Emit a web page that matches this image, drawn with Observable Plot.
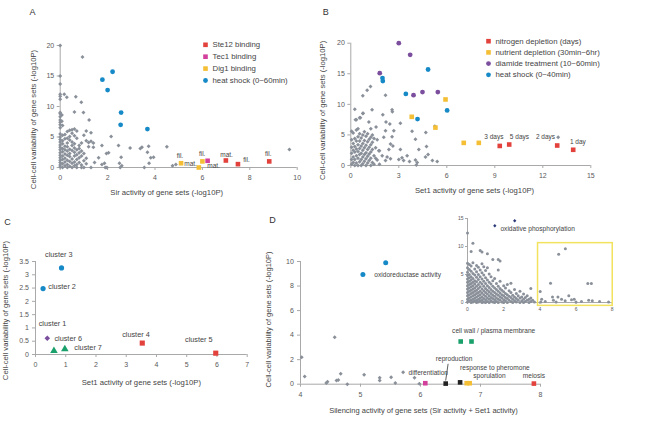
<!DOCTYPE html>
<html><head><meta charset="utf-8">
<script src="https://cdn.jsdelivr.net/npm/d3@7"></script>
<script src="https://cdn.jsdelivr.net/npm/@observablehq/plot@0.6"></script>
<style>
body{margin:0;background:#fff;}
#fig{position:relative;width:648px;height:427px;overflow:hidden;background:#fff;}
</style></head><body><div id="fig"></div>
<script>
// ---------- Panel A data ----------
const xTicksA = [0,2,4,6,8,10];
const yTicksA = [0,5,10,15,20];
const grayA = [[0,20],[0.94,18.1],[0,15],[0,13.7],[0,12],[0,11.7],[0,11.2],[0.17,12],[0.28,11.5],[0.66,11.6],[0.89,10.7],[0.98,9.0],[0.6,9.1],[1.22,7.8],[0,9],[0,8.8],[0,8.3],[0.07,8.6],[0,7.8],[0,7.4],[0.07,7.6],[0,7.0],[0.1,6.9],[0,6.5],[0,5.5],[0,5.0],[0,4.6],[0,4.2],[0,3.7],[0,3.3],[0,2.9],[0,2.4],[0,2.0],[0,1.6],[0,1.2],[0,0.8],[0,0.4],[0,0.1],
[0.1,5.3],[0.1,4.4],[0.1,3.9],[0.1,3.1],[0.1,2.6],[0.1,1.9],[0.1,1.3],[0.1,0.6],[0.1,0],
[0.2,5.4],[0.2,4.7],[0.2,3.5],[0.2,2.9],[0.2,2.2],[0.2,1.5],[0.2,0.9],[0.2,0.3],
[0.3,5.9],[0.3,4.8],[0.3,4.0],[0.3,3.4],[0.3,2.7],[0.3,2.0],[0.3,1.2],[0.3,0.5],[0.3,0],
[0.4,6.1],[0.4,5.1],[0.4,4.5],[0.4,3.0],[0.4,2.3],[0.4,1.8],[0.4,1.0],[0.4,0.2],
[0.5,6.2],[0.5,5.6],[0.5,4.2],[0.5,3.6],[0.5,2.8],[0.5,1.4],[0.5,0.7],[0.5,0],
[0.6,6.3],[0.6,5.2],[0.6,3.9],[0.6,3.2],[0.6,2.5],[0.6,1.9],[0.6,0.9],[0.6,0.3],
[0.7,6.0],[0.7,4.8],[0.7,2.9],[0.7,2.1],[0.7,1.3],[0.7,0.5],[0.7,0],
[0.8,3.6],[0.8,3.1],[0.8,2.4],[0.8,1.6],[0.8,0.8],
[0.9,4.0],[0.9,2.7],[0.9,1.9],[0.9,0.4],[0.9,0],
[1.0,5.3],[1.0,2.3],[1.0,1.1],[1.0,0],
[1.1,6.0],[1.1,4.4],[1.1,1.5],[1.1,0.6],
[1.2,4.1],[1.2,3.4],[1.3,5.7],[1.3,4.3],[1.3,0],[1.4,4.0],[1.4,3.3],[1.45,0.8],
[1.62,1.6],[1.76,0.5],[1.9,0],[1.76,3.6],[1.95,2.3],[2.04,2.4],[1.87,0.7],[1.97,0],[2.15,5.1],[2.46,3.6],[2.5,0.7],[2.53,0],[2.6,0.3],[2.57,1.7],[2.95,3.2],[3.38,3.1],[3.45,3.3],[3.73,3.5],[3.68,2.5],[3.82,1.6],[3.94,1.7],[3.75,0.7],[3.55,0],[4.5,3.4],[4.74,0.28],[4.88,0.5],[9.67,2.95]];
const heatA = [[1.78,14.4],[2.21,15.7],[2.0,12.7],[2.57,9.0],[2.55,7.0],[3.68,6.3]];
const ste12A = [[6.99,1.15],[7.5,0.55],[8.82,1.0]];
const tec1A = [[6.22,1.1]];
const dig1A = [[5.1,0.7],[6.0,1.0],[5.85,0]];
const notesA = [{x:5.05,y:1.92,t:"fil."},{x:5.5,y:0.6,t:"mat."},{x:5.99,y:2.25,t:"fil."},{x:6.47,y:0.21,t:"mat."},{x:7.02,y:2.13,t:"mat."},{x:7.86,y:1.26,t:"fil."},{x:8.78,y:2.25,t:"fil."}];
const legendA = ["Ste12 binding","Tec1 binding","Dig1 binding","heat shock (0~60min)"];

// ---------- Panel B data ----------
const xTicksB = [0,3,6,9,12,15];
const yTicksB = [0,5,10,15,20];
const grayB = [[0.05,5.6],[0.05,4.2],[0.05,3.0],[0.05,2.0],[0.05,1.0],[0.05,0.2],[0.15,5.3],[0.15,3.6],[0.15,2.5],[0.15,1.4],[0.15,0.5],[0.25,9.2],[0.25,4.4],[0.25,3.1],[0.25,2.2],[0.25,1.0],[0.25,0],[0.35,7.5],[0.35,5.8],[0.35,4.0],[0.35,2.7],[0.35,1.6],[0.35,0.4],[0.45,6.0],[0.45,4.7],[0.45,3.4],[0.45,2.3],[0.45,1.2],[0.45,0],[0.55,7.8],[0.55,5.2],[0.55,4.0],[0.55,2.8],[0.55,1.8],[0.55,0.6],[0.65,4.5],[0.65,3.2],[0.65,2.0],[0.65,1.0],[0.65,0],[0.75,11.4],[0.75,8.5],[0.75,5.0],[0.75,3.6],[0.75,2.5],[0.75,1.4],[0.75,0.3],[0.85,5.5],[0.85,4.1],[0.85,2.9],[0.85,1.8],[0.85,0.7],[0.95,4.8],[0.95,3.3],[0.95,2.1],[0.95,1.1],[0.95,0],[1.02,12.3],[1.05,5.2],[1.05,3.9],[1.05,2.6],[1.05,1.5],[1.05,0.4],[1.13,7.1],[1.15,4.3],[1.15,3.0],[1.15,1.9],[1.15,0.8],[1.23,12.9],[1.25,6.0],[1.25,4.6],[1.25,3.4],[1.25,2.2],[1.25,1.2],[1.25,0],[1.33,9.1],[1.35,5.0],[1.35,3.8],[1.35,2.6],[1.35,0.5],[1.45,4.4],[1.45,1.6],[1.45,0.2],[1.55,2.9],[1.55,1.2],[1.58,6.3],[1.65,4.2],[1.65,0.9],[1.75,2.4],[1.79,0.2],
[2.17,11.5],[0.77,8.55],[2.0,8.3],[2.58,9.1],[2.6,8.8],[0.29,7.5],[0.6,7.8],[2.2,7.1],[2.44,6.8],[3.1,6.9],[2.17,5.7],[2.69,5.7],[3.83,5.6],[5.25,6.4],[2.06,4.6],[2.58,4.7],[4.04,4.3],[4.69,5.4],[2.48,3.5],[2.63,3.2],[2.38,2.6],[3.1,2.6],[3.52,1.6],[4.25,2.6],[4.73,3.1],[4.83,1.8],[4.67,1.4],[5.4,0.65],[5.1,0.8],[4.04,0.9],[4.15,0.5],[4.1,0.1],[3.2,1.25],[3.0,1.0],[3.3,0.8],[3.67,0.65],[2.48,1.1],[2.27,1.4],[2.17,0.8],[1.96,1.6],[1.79,2.4],[12.96,4.6]];
const nitrogenB = [[9.31,3.2],[9.9,3.43],[12.9,3.27],[13.9,2.57]];
const nutrientB = [[3.81,7.96],[5.92,10.8],[5.29,6.2],[7.06,3.7],[8.0,3.7]];
const diamideB = [[3.0,20],[3.71,18.1],[1.81,15.1],[4.48,12.0],[3.92,11.5],[5.44,12.0]];
const heatB = [[1.98,14.3],[2.0,13.8],[3.44,11.7],[4.83,15.7],[6.02,9.0],[4.17,7.6]];
const notesB = [{x:8.94,y:4.74,t:"3 days"},{x:10.54,y:4.74,t:"5 days"},{x:12.17,y:4.62,t:"2 days"},{x:14.19,y:3.81,t:"1 day"}];
const legendB = ["nitrogen depletion (days)","nutrient depletion (30min~6hr)","diamide treatment (10~60min)","heat shock (0~40min)"];

// ---------- Panel C data ----------
const xTicksC = [0,1,2,3,4,5,6,7];
const yTicksC = [0,0.5,1,1.5,2,2.5,3,3.5];
const blueC = [[0.86,3.26],[0.25,2.48]];
const purpleC = [[0.39,0.61]];
const greenC = [[0.61,0.14],[0.97,0.2]];
const redC = [[3.53,0.43],[5.96,0.05]];
const notesC = [{x:0.77,y:3.77,t:"cluster 3"},{x:0.88,y:2.57,t:"cluster 2"},{x:0.56,y:1.16,t:"cluster 1"},{x:1.08,y:0.61,t:"cluster 6"},{x:1.74,y:0.25,t:"cluster 7"},{x:3.32,y:0.75,t:"cluster 4"},{x:5.4,y:0.55,t:"cluster 5"}];

// ---------- Panel D data ----------
const xTicksD = [4,5,6,7,8];
const yTicksD = [0,2,4,6,8,10];
const grayD = [[4.02,2.2],[4.07,0.63],[4.57,3.83],[4.43,0.1],[4.45,0.2],[4.6,0.3],[4.63,0.35],[4.67,0.85],[4.78,0],[5.06,0.77],[5.32,0.52],[5.32,0.3],[5.51,0.57],[5.58,0.1],[5.71,0.98],[5.9,0.52],[5.98,0.03]];
const blueD = [[5.42,9.9],[5.04,8.94]];
const greenD = [[6.67,3.48],[6.85,3.48]];
const magentaD = [[6.08,0.08]];
const blackD = [[6.42,0.05],[6.66,0.15]];
const yellowD = [[6.77,0.08],[6.82,0.08]];
const redD = [[7.89,0.05]];
const notesDmid = [{x:7.22,y:4.32,t:"cell wall / plasma membrane"},{x:6.56,y:2.07,t:"reproduction"},{x:7.89,y:0.65,t:"meiosis"}];
const notesDstart = [{x:5.23,y:8.94,t:"oxidoreductase activity"},{x:6.66,y:1.3,t:"response to pheromone"},{x:6.88,y:0.65,t:"sporulation"},{x:5.8,y:0.93,t:"differentiation"}];
const leaderD = [{x1:6.46,y1:1.66,x2:6.42,y2:0.3}];

// ---------- Inset data ----------
const xTicksI = [0,2,4,6,8];
const yTicksI = [0,5,10,15];
const insetCols = [
 [0.0,[12.4,7.0,6.2,5.4,4.8,4.2,3.6,3.0,2.4,1.8,1.2,0.6,0.1]],
 [0.1,[6.8,5.9,5.0,4.4,3.8,3.2,2.6,2.0,1.4,0.8,0.3]],
 [0.2,[9.1,6.5,5.6,4.6,4.0,3.4,2.8,2.2,1.6,1.0,0.4,0]],
 [0.3,[10.6,7.1,5.2,4.3,3.6,3.0,2.4,1.8,1.2,0.6,0.1]],
 [0.4,[6.0,4.9,3.9,3.3,2.6,2.0,1.4,0.8,0.3]],
 [0.5,[6.6,5.5,4.5,3.7,2.9,2.2,1.6,1.0,0.4,0]],
 [0.6,[6.3,5.0,4.1,3.2,2.5,1.8,1.2,0.6,0.1]],
 [0.7,[9.3,5.8,4.6,3.6,2.8,2.0,1.4,0.8,0.3]],
 [0.8,[9.0,6.9,5.3,4.2,3.3,2.4,1.7,1.0,0.4,0]],
 [0.9,[6.4,4.9,3.8,2.9,2.1,1.4,0.7,0.1]],
 [1.0,[5.7,4.4,3.4,2.5,1.8,1.1,0.5,0]],
 [1.1,[8.7,6.2,4.0,3.0,2.2,1.5,0.8,0.2]],
 [1.2,[5.1,3.6,2.7,1.9,1.2,0.6,0]],
 [1.3,[4.6,3.3,2.3,1.6,0.9,0.3]],
 [1.4,[7.7,3.9,2.9,2.0,1.3,0.7,0.1]],
 [1.5,[4.3,2.6,1.8,1.1,0.5,0]],
 [1.6,[3.4,2.3,1.5,0.8,0.2]],
 [1.7,[7.7,5.8,2.9,2.0,1.3,0.6,0]],
 [1.8,[7.4,3.8,2.5,1.7,1.0,0.4]],
 [1.9,[2.2,1.4,0.8,0.1]],
 [2.0,[3.0,1.9,1.2,0.5,0]],
 [2.1,[2.6,1.6,0.9,0.3]],
 [2.2,[3.2,1.4,0.7,0]],
 [2.3,[2.1,1.1,0.4]],
 [2.4,[3.45,1.8,0.9,0.2]],
 [2.5,[1.3,0.6,0]],
 [2.6,[2.3,1.0,0.3]],
 [2.7,[1.6,0.7,0.1]],
 [2.8,[1.2,0.4]],
 [2.9,[2.0,0.8,0]],
 [3.0,[1.0,0.3]],
 [3.1,[1.5,0.6,0]],
 [3.2,[0.9,0.2]],
 [3.3,[1.2,0.4]],
 [3.4,[0.6,0]],
 [3.5,[2.5,0.8,0.2]],
 [3.6,[0.4]],
 [3.7,[0.1]]
];
const insetExtra = [[4.02,1.96],[4.1,0.6],[4.05,0.1],[4.3,0.2],[4.59,3.45],[4.7,1.0],[4.75,0.4],[4.9,0.1],[5.04,8.6],[5.0,1.0],[5.2,0.6],[5.41,9.6],[5.4,0.3],[5.6,1.2],[5.75,0.5],[5.9,0.6],[6.0,0.1],[6.3,0.2],[6.65,3.4],[6.85,3.4],[6.7,0.4],[6.9,0.3],[7.3,0.2],[7.8,0.1]];
const oxphosI = [[1.51,13.7],[2.61,14.6]];
const boxI = [{x1:3.9,x2:8.03,y1:-0.6,y2:10.6}];
const noteI = [{x:1.82,y:13.1,t:"oxidative phosphorylation"}];

// ---------- styling ----------
const FONT = "'Liberation Sans', Arial, Helvetica, sans-serif";
const AXIS = "#a9a9a9", TICK = "#5a5a5a", TXT = "#444";
const GRAY = "#8a9099", RED = "#e2413c", MAGENTA = "#d3409b", YELLOW = "#f4bf35", BLUE = "#1689c7", PURPLE = "#7b4f9e", GREEN = "#1aa06a", BLACK = "#222", NAVY = "#2c3a78";
const fig = document.getElementById("fig");
const X = d => d[0], Y = d => d[1];

function place(svg, left, top) {
  svg.style.position = "absolute";
  svg.style.left = left + "px";
  svg.style.top = top + "px";
  fig.appendChild(svg);
}
function axes(x0, y0, xt, yt, o) {
  return [
    Plot.ruleY([y0], {stroke: AXIS}),
    Plot.ruleX([x0], {stroke: AXIS}),
    Plot.axisX({ticks: xt, tickSize: o.ts, tickPadding: o.xp, fontSize: o.fs, stroke: AXIS, fill: TICK, label: null, tickFormat: d => String(d)}),
    Plot.axisY({ticks: yt, tickSize: o.ts, tickPadding: o.yp, fontSize: o.fs, stroke: AXIS, fill: TICK, label: null, tickFormat: d => String(d)})
  ];
}
function titles(xt, yt, letter, o) {
  return [
    Plot.text([xt], {text: d => d, frameAnchor: "bottom", textAnchor: "middle", lineAnchor: "middle", dx: o.xdx, dy: o.xdy, fontSize: o.fs, fill: TXT}),
    Plot.text([yt], {text: d => d, frameAnchor: "left", textAnchor: "middle", lineAnchor: "middle", rotate: -90, dx: o.ydx, dy: o.ydy, fontSize: o.fs, fill: TXT}),
    Plot.text([letter], {text: d => d, frameAnchor: "top-left", textAnchor: "middle", lineAnchor: "middle", dx: o.ldx, dy: o.ldy, fontSize: 9, fill: "#333"})
  ];
}
function legend(labels, styles, dx, dy, step, fs) {
  return labels.flatMap((lab, i) => [
    Plot.dot([lab], {frameAnchor: "top-left", dx: dx, dy: dy + i * step, symbol: styles[i].symbol, r: styles[i].r, fill: styles[i].fill}),
    Plot.text([lab], {text: d => d, frameAnchor: "top-left", dx: dx + 7, dy: dy + i * step, textAnchor: "start", lineAnchor: "middle", fontSize: fs, fill: TXT})
  ]);
}
const YT = "Cell-cell variability of gene sets (-log10P)";
const baseStyle = {background: "transparent", overflow: "visible", fontFamily: FONT, color: TICK};

// ---------- Panel A ----------
place(Plot.plot({
  width: 324, height: 210, marginLeft: 59.7, marginRight: 27.3, marginTop: 45, marginBottom: 43,
  style: baseStyle, x: {domain: [0, 10]}, y: {domain: [0, 20]},
  marks: [
    ...axes(0, 0, xTicksA, yTicksA, {ts: 3, xp: 5, yp: 3, fs: 7}),
    Plot.dot(grayA, {x: X, y: Y, symbol: "diamond2", r: 1.8, fill: GRAY}),
    Plot.dot(heatA, {x: X, y: Y, r: 2.4, fill: BLUE}),
    Plot.dot(dig1A, {x: X, y: Y, symbol: "square", r: 2.6, fill: YELLOW}),
    Plot.dot(tec1A, {x: X, y: Y, symbol: "square", r: 2.6, fill: MAGENTA}),
    Plot.dot(ste12A, {x: X, y: Y, symbol: "square", r: 2.6, fill: RED}),
    Plot.text(notesA, {x: "x", y: "y", text: "t", fontSize: 6.5, fill: TXT}),
    ...legend(legendA, [{symbol: "square", r: 2.6, fill: RED}, {symbol: "square", r: 2.6, fill: MAGENTA}, {symbol: "square", r: 2.6, fill: YELLOW}, {symbol: "circle", r: 2.4, fill: BLUE}], 145.3, -0.7, 11.9, 7.8),
    ...titles("Sir activity of gene sets (-log10P)", YT, "A", {fs: 7.7, xdx: -12, xdy: 25, ydx: -26.7, ydy: 13, ldx: -27.7, ldy: -33})
  ]
}), 0, 0);

// ---------- Panel B ----------
place(Plot.plot({
  width: 348, height: 210, marginLeft: 50.3, marginRight: 57.7, marginTop: 42.7, marginBottom: 45,
  style: baseStyle, x: {domain: [0, 15]}, y: {domain: [0, 20]},
  marks: [
    ...axes(0, 0, xTicksB, yTicksB, {ts: 3, xp: 5, yp: 3, fs: 7}),
    Plot.dot(grayB, {x: X, y: Y, symbol: "diamond2", r: 1.8, fill: GRAY}),
    Plot.dot(nutrientB, {x: X, y: Y, symbol: "square", r: 2.6, fill: YELLOW}),
    Plot.dot(diamideB, {x: X, y: Y, r: 2.4, fill: PURPLE}),
    Plot.dot(heatB, {x: X, y: Y, r: 2.4, fill: BLUE}),
    Plot.dot(nitrogenB, {x: X, y: Y, symbol: "square", r: 2.6, fill: RED}),
    Plot.text(notesB, {x: "x", y: "y", text: "t", fontSize: 6.5, fill: TXT}),
    ...legend(legendB, [{symbol: "square", r: 2.6, fill: RED}, {symbol: "square", r: 2.6, fill: YELLOW}, {symbol: "circle", r: 2.4, fill: PURPLE}, {symbol: "circle", r: 2.4, fill: BLUE}], 137.7, -2, 11.2, 7.8),
    ...titles("Set1 activity of gene sets (-log10P)", YT, "B", {fs: 7.7, xdx: 3.7, xdy: 25, ydx: -28.3, ydy: 6, ldx: -25, ldy: -31})
  ]
}), 300, 0);

// ---------- Panel C ----------
place(Plot.plot({
  width: 324, height: 217, marginLeft: 35, marginRight: 77.3, marginTop: 51, marginBottom: 73,
  style: baseStyle, x: {domain: [0, 7]}, y: {domain: [0, 3.5]},
  marks: [
    ...axes(0, 0, xTicksC, yTicksC, {ts: 3, xp: 4.5, yp: 3.5, fs: 7}),
    Plot.dot(blueC, {x: X, y: Y, r: 2.6, fill: BLUE}),
    Plot.dot(purpleC, {x: X, y: Y, symbol: "diamond2", r: 2.5, fill: PURPLE}),
    Plot.dot(greenC, {x: X, y: Y, symbol: "triangle", r: 2.8, fill: GREEN}),
    Plot.dot(redC, {x: X, y: Y, symbol: "square", r: 2.9, fill: RED}),
    Plot.text(notesC, {x: "x", y: "y", text: "t", fontSize: 7.3, fill: TXT}),
    ...titles("Set1 activity of gene sets (-log10P)", YT, "C", {fs: 7.7, xdx: 0, xdy: 28.5, ydx: -30, ydy: 2.5, ldx: -28, ldy: -39})
  ]
}), 0, 210);

// ---------- Panel D ----------
place(Plot.plot({
  width: 388, height: 217, marginLeft: 40, marginRight: 108, marginTop: 51, marginBottom: 43.3,
  style: baseStyle, x: {domain: [4, 8]}, y: {domain: [0, 10]},
  marks: [
    ...axes(4, 0, xTicksD, yTicksD, {ts: 3, xp: 4.5, yp: 3.7, fs: 7}),
    Plot.dot(grayD, {x: X, y: Y, symbol: "diamond2", r: 1.8, fill: GRAY}),
    Plot.dot(blueD, {x: X, y: Y, r: 2.5, fill: BLUE}),
    Plot.dot(greenD, {x: X, y: Y, symbol: "square", r: 2.6, fill: GREEN}),
    Plot.dot(magentaD, {x: X, y: Y, symbol: "square", r: 2.6, fill: MAGENTA}),
    Plot.dot(blackD, {x: X, y: Y, symbol: "square", r: 2.6, fill: BLACK}),
    Plot.dot(yellowD, {x: X, y: Y, symbol: "square", r: 2.6, fill: YELLOW}),
    Plot.dot(redD, {x: X, y: Y, symbol: "square", r: 2.6, fill: RED}),
    Plot.link(leaderD, {x1: "x1", y1: "y1", x2: "x2", y2: "y2", stroke: "#333", strokeWidth: 0.8}),
    Plot.text(notesDmid, {x: "x", y: "y", text: "t", fontSize: 6.6, fill: TXT}),
    Plot.text(notesDstart, {x: "x", y: "y", text: "t", textAnchor: "start", fontSize: 6.6, fill: TXT}),
    ...titles("Silencing activity of gene sets (Sir activity + Set1 activity)", YT, "D", {fs: 7.5, xdx: 3, xdy: 26.3, ydx: -32.3, ydy: -3.4, ldx: -28, ldy: -41})
  ]
}), 260, 210);

// ---------- Inset ----------
const insetPts = insetCols.flatMap(([x, ys]) => ys.map(y => [x, y])).concat(insetExtra);
place(Plot.plot({
  width: 180, height: 100, marginLeft: 27, marginRight: 8.3, marginTop: 6, marginBottom: 10,
  style: baseStyle, x: {domain: [0, 8]}, y: {domain: [0, 15]},
  marks: [
    ...axes(0, 0, xTicksI, yTicksI, {ts: 2, xp: 2.5, yp: 2, fs: 5}),
    Plot.dot(insetPts, {x: X, y: Y, r: 1.5, fill: GRAY}),
    Plot.dot(oxphosI, {x: X, y: Y, symbol: "diamond2", r: 1.5, fill: NAVY}),
    Plot.rect(boxI, {x1: "x1", x2: "x2", y1: "y1", y2: "y2", fill: "none", stroke: "#f2e25e", strokeWidth: 1.5}),
    Plot.text(noteI, {x: "x", y: "y", text: "t", textAnchor: "start", fontSize: 6.6, fill: TXT})
  ]
}), 440, 212);
</script>
</body></html>
